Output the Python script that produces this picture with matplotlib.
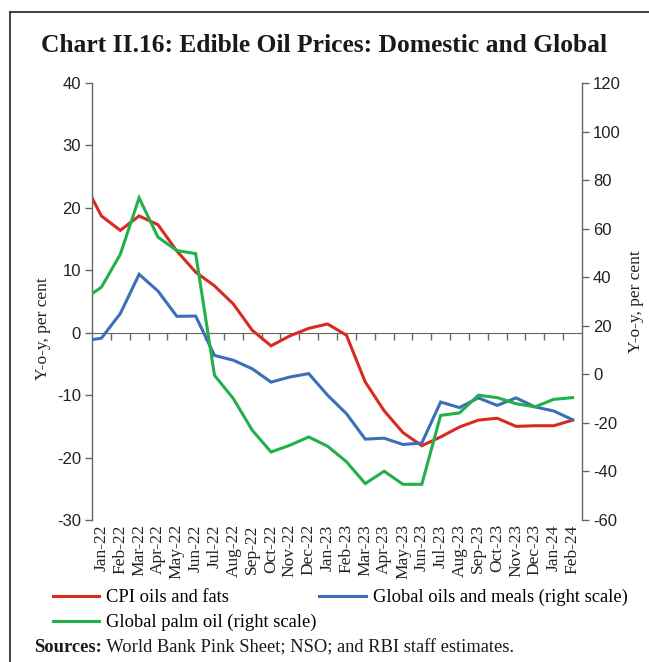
import numpy as np
import matplotlib
matplotlib.use("Agg")
from matplotlib import pyplot as plt
from matplotlib.lines import Line2D

plt.rcParams["axes.unicode_minus"] = False

# Dec-21 is only there so the lines run into the left axis (clipped like the source)
months = ["Dec-21",
          "Jan-22", "Feb-22", "Mar-22", "Apr-22", "May-22", "Jun-22", "Jul-22",
          "Aug-22", "Sep-22", "Oct-22", "Nov-22", "Dec-22", "Jan-23", "Feb-23",
          "Mar-23", "Apr-23", "May-23", "Jun-23", "Jul-23", "Aug-23", "Sep-23",
          "Oct-23", "Nov-23", "Dec-23", "Jan-24", "Feb-24"]

cpi_oils = [24.5,
            18.7, 16.4, 18.7, 17.3, 13.1, 9.7, 7.5, 4.6, 0.4, -2.1, -0.5, 0.7,
            1.4, -0.4, -7.9, -12.5, -16.0, -18.1, -16.7, -15.1, -14.0, -13.7,
            -15.0, -14.9, -14.9, -14.0]

global_oils_meals = [13.7,
                     14.9, 25.0, 41.2, 34.3, 23.9, 24.0, 7.8, 5.8, 2.3, -3.2,
                     -1.1, 0.3, -8.6, -16.2, -26.7, -26.3, -28.9, -28.3, -11.4,
                     -13.7, -9.7, -12.8, -9.7, -13.4, -15.1, -18.7]

global_palm = [30.5,
               35.9, 49.4, 72.7, 56.5, 51.0, 49.7, -0.4, -10.0, -23.0, -32.0,
               -29.2, -25.8, -29.6, -36.0, -45.0, -39.9, -45.3, -45.3, -16.9,
               -15.9, -8.6, -9.6, -12.1, -13.4, -10.3, -9.6]

left_ticks = [-30, -20, -10, 0, 10, 20, 30, 40]
right_ticks = [-60, -40, -20, 0, 20, 40, 60, 80, 100, 120]

RED = "#d92a20"
BLUE = "#3b6fb8"
GREEN = "#22b04b"
AXC = "#666666"

serif = ["Liberation Serif", "DejaVu Serif"]
sans = ["Liberation Sans", "DejaVu Sans"]

fig = plt.figure(figsize=(6.49, 6.62), dpi=100)
ax = fig.add_axes([92 / 649, 1 - 520 / 662, 490 / 649, 437 / 662])
ax2 = ax.twinx()

x = np.arange(len(months))
ax.plot(x, cpi_oils, color=RED, lw=2.2, solid_joinstyle="miter")
ax2.plot(x, global_oils_meals, color=BLUE, lw=2.2, solid_joinstyle="miter")
ax2.plot(x, global_palm, color=GREEN, lw=2.2, solid_joinstyle="miter")

ax.set_xlim(0.5, len(months) - 0.5)
ax.set_ylim(-30, 40)
ax2.set_ylim(-60, 120)
ax.set_yticks(left_ticks)
ax2.set_yticks(right_ticks)

ax.set_xticks(x[1:])
ax.set_xticklabels(months[1:], rotation=90, family=serif, fontsize=12.5, color="#222222")
ax.tick_params(axis="x", length=0, pad=3)

for a in (ax, ax2):
    a.spines["top"].set_visible(False)
    a.spines["bottom"].set_visible(False)
    a.spines["left"].set_color(AXC)
    a.spines["right"].set_color(AXC)
    a.spines["left"].set_linewidth(1.0)
    a.spines["right"].set_linewidth(1.0)
    a.tick_params(axis="y", direction="out", length=5, width=1.0, color=AXC,
                  labelsize=12, labelcolor="#222222", pad=3)
ax.spines["right"].set_visible(False)
ax2.spines["left"].set_visible(False)
for lab in ax.get_yticklabels() + ax2.get_yticklabels():
    lab.set_family(sans)

# zero line with category-boundary ticks
zero_ax = ax.secondary_xaxis(30 / 70)
zero_ax.set_xticks(x[1:-1] + 0.5)
zero_ax.tick_params(axis="x", direction="out", length=5, width=1.0, color=AXC,
                    labelbottom=False, labeltop=False)
for s in zero_ax.spines.values():
    s.set_color(AXC)

ax.set_ylabel("Y-o-y, per cent", family=serif, fontsize=12.5, color="#222222")
ax.yaxis.set_label_coords((51 - 92) / 490, 0.437)
ax2.set_ylabel("Y-o-y, per cent", family=serif, fontsize=12.5, color="#222222")
ax2.yaxis.set_label_coords((628 - 92) / 490, 0.5)

fig.text(0.5, 1 - 46 / 662, "Chart II.16: Edible Oil Prices: Domestic and Global",
         ha="center", va="center", family=serif, fontweight="bold", fontsize=18.4,
         color="#1a1a1a")

handles = [Line2D([], [], color=RED, lw=2.2),
           Line2D([], [], color=GREEN, lw=2.2),
           Line2D([], [], color=BLUE, lw=2.2)]
labels = ["CPI oils and fats", "Global palm oil (right scale)",
          "Global oils and meals (right scale)"]
fig.legend(handles, labels, ncol=2, loc="upper left",
           bbox_to_anchor=(53 / 649, 1 - 589 / 662), frameon=False,
           prop={"family": serif, "size": 13.3}, handlelength=2.5,
           handletextpad=0.38, columnspacing=0.15, labelspacing=0.42,
           borderpad=0, borderaxespad=0)

t1 = fig.text(34 / 649, 1 - 648 / 662, "Sources:", family=serif,
              fontweight="bold", fontsize=13.3, va="center", ha="left", color="#1a1a1a")
ax.annotate(" World Bank Pink Sheet; NSO; and RBI staff estimates.",
            xy=(1, 0), xycoords=t1, va="bottom", ha="left", family=serif,
            fontsize=13.3, color="#1a1a1a", annotation_clip=False)

# frame lines of the panel (top and left)
fig.add_artist(Line2D([10 / 649, 1], [1 - 12 / 662, 1 - 12 / 662],
                      transform=fig.transFigure, color="#333333", lw=1.3))
fig.add_artist(Line2D([10 / 649, 10 / 649], [0, 1 - 12 / 662],
                      transform=fig.transFigure, color="#333333", lw=1.3))

fig.savefig("out.png", dpi=100)
